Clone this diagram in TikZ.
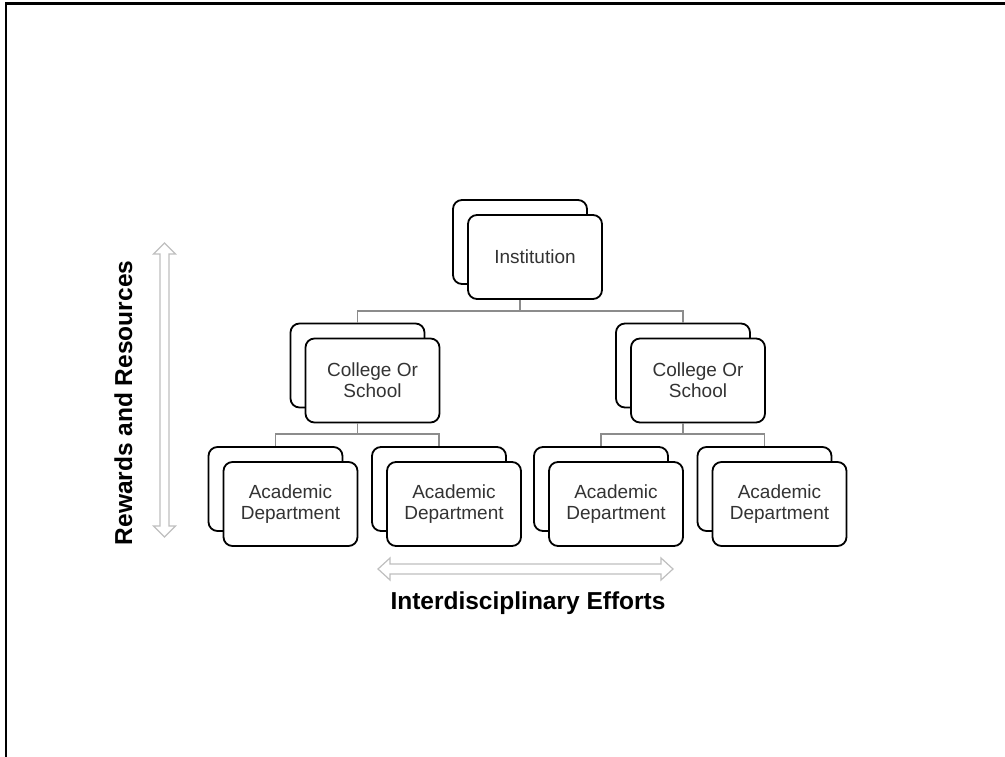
\documentclass[tikz,border=0pt]{standalone}
\usepackage{fontspec}
\setmainfont{Liberation Sans}
\usetikzlibrary{calc}

\tikzset{
    backbox/.style={draw=black, line width=1.8pt, rounded corners=9pt, fill=white,
        minimum width=134pt, minimum height=84pt, inner sep=0pt},
    frontbox/.style={backbox, text=black!80, align=center, font=\fontsize{19}{21}\selectfont},
    orgline/.style={draw=black!45, line width=1.2pt},
    bigarrow/.style={draw=black!25, line width=1.2pt, fill=white, line join=miter},
    caption/.style={font=\fontsize{24.5}{28}\selectfont\bfseries, text=black}
}

\begin{document}
\begin{tikzpicture}[x=1pt,y=-1pt]
    \useasboundingbox (0,0) rectangle (1005,757);
    \draw[line width=2.5pt] (6,757) -- (6,3.5) -- (1005,3.5); % page frame
    \coordinate (busTop) at (0,311);
    \coordinate (busLow) at (0,434);
    % Top level
    \node[backbox] (instBack) at (520,242) {};
    \node[frontbox] (inst) at ([shift={(15,15)}]instBack) {Institution};
    % Second level
    \node[backbox] (collegeLBack) at (357.5,365.5) {};
    \node[frontbox] (collegeL) at ([shift={(15,15)}]collegeLBack) {College Or\\School};
    \node[backbox] (collegeRBack) at (683,365.5) {};
    \node[frontbox] (collegeR) at ([shift={(15,15)}]collegeRBack) {College Or\\School};
    % Third level
    \node[backbox] (deptABack) at (275.5,489) {};
    \node[frontbox] (deptA) at ([shift={(15,15)}]deptABack) {Academic\\Department};
    \node[backbox] (deptBBack) at (439,489) {};
    \node[frontbox] (deptB) at ([shift={(15,15)}]deptBBack) {Academic\\Department};
    \node[backbox] (deptCBack) at (601,489) {};
    \node[frontbox] (deptC) at ([shift={(15,15)}]deptCBack) {Academic\\Department};
    \node[backbox] (deptDBack) at (764.5,489) {};
    \node[frontbox] (deptD) at ([shift={(15,15)}]deptDBack) {Academic\\Department};
    % Connectors
    \draw[orgline] (instBack |- inst.south) -- (instBack |- busTop) -| (collegeLBack.north);
    \draw[orgline] (instBack |- busTop) -| (collegeRBack.north);
    \draw[orgline] (collegeLBack |- collegeL.south) -- (collegeLBack |- busLow);
    \draw[orgline] (deptABack.north) |- (deptBBack |- busLow) -- (deptBBack.north);
    \draw[orgline] (collegeRBack |- collegeR.south) -- (collegeRBack |- busLow);
    \draw[orgline] (deptCBack.north) |- (deptDBack |- busLow) -- (deptDBack.north);
    % Hollow arrows
    \draw[bigarrow] (164.5,243) -- (175.5,254) -- (169,254) -- (169,526) -- (175.5,526)
        -- (164.5,537) -- (153.5,526) -- (160,526) -- (160,254) -- (153.5,254) -- cycle;
    \draw[bigarrow] (378,569) -- (390,558) -- (390,564) -- (661,564) -- (661,558)
        -- (673,569) -- (661,580) -- (661,574) -- (390,574) -- (390,580) -- cycle;
    \node[caption, rotate=90, anchor=base] (rewards) at (132,403) {Rewards and Resources};
    \node[caption, anchor=base] (efforts) at (528,609) {Interdisciplinary Efforts};
\end{tikzpicture}
\end{document}
